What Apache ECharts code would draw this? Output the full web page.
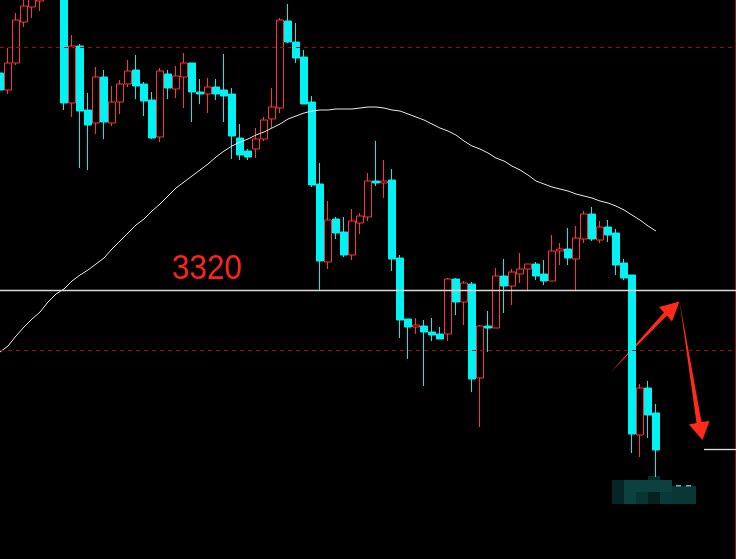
<!DOCTYPE html>
<html>
<head>
<meta charset="utf-8">
<style>
html,body{margin:0;padding:0;background:#000;}
#chart{width:736px;height:559px;}
</style>
<script src="https://cdn.jsdelivr.net/npm/echarts@6/dist/echarts.min.js"></script>
</head>
<body>
<div id="chart"></div>
<script>
// ---- data (index points) ----
// candle: [open, close, low, high]
const candles = [
  [3537,3520,3518,3540],[3520,3547,3516,3562],[3547,3590,3545,3597],[3588,3604,3583,3613],
  [3603,3611,3592,3618],[3609,3625,3599,3632],[3622,3640,3618,3648],[3645,3630,3625,3655],
  [3635,3507,3500,3640],[3507,3564,3493,3575],[3564,3499,3442,3566],[3500,3485,3440,3517],
  [3487,3533,3476,3543],[3533,3488,3471,3540],[3487,3508,3484,3524],[3508,3526,3496,3530],
  [3526,3539,3523,3550],[3540,3524,3511,3555],[3526,3509,3494,3528],[3510,3472,3471,3518],
  [3473,3539,3468,3542],[3536,3522,3511,3540],[3521,3534,3512,3544],[3533,3547,3502,3557],
  [3547,3518,3488,3547],[3518,3516,3506,3531],[3516,3523,3497,3532],[3523,3516,3510,3531],
  [3520,3514,3488,3556],[3516,3474,3451,3522],[3472,3455,3450,3486],[3459,3453,3450,3461],
  [3461,3471,3452,3482],[3471,3490,3469,3493],[3491,3503,3482,3522],[3502,3590,3497,3592],
  [3589,3568,3567,3606],[3568,3552,3547,3587],[3553,3506,3506,3560],[3508,3425,3423,3514],
  [3426,3349,3320,3447],[3348,3390,3341,3409],[3391,3377,3371,3393],[3378,3355,3353,3393],
  [3355,3389,3350,3401],[3387,3394,3376,3397],[3393,3429,3389,3437],[3429,3427,3424,3469],
  [3427,3429,3412,3450],[3430,3351,3339,3441],[3352,3290,3272,3355],[3291,3283,3251,3291],
  [3283,3285,3276,3292],[3284,3278,3224,3290],[3278,3275,3269,3292],[3276,3271,3271,3283],
  [3276,3331,3269,3332],[3331,3308,3295,3332],[3308,3327,3285,3329],[3326,3231,3218,3328],
  [3232,3284,3183,3285],[3284,3282,3258,3299],[3282,3334,3282,3342],[3334,3324,3297,3351],
  [3324,3338,3305,3341],[3336,3341,3327,3357],[3341,3346,3320,3346],[3346,3334,3330,3348],
  [3336,3329,3325,3350],[3329,3359,3329,3375],[3359,3361,3345,3367],[3361,3352,3345,3382],
  [3351,3372,3320,3384],[3371,3396,3367,3399],[3396,3371,3369,3403],[3370,3383,3367,3389],
  [3383,3375,3368,3390],[3377,3345,3335,3381],[3347,3332,3330,3351],[3335,3176,3157,3335],
  [3175,3222,3153,3226],[3222,3195,3172,3229],[3197,3160,3133,3206]
];
// moving-average line
const maLine = [
  3258,3264,3274,3283,3291,3298,3308,3316,3321,3329,3335,3340,3346,3352,3361,3369,
  3377,3385,3391,3399,3406,3414,3422,3428,3434,3440,3446,3453,3459,3464,3468,3471,
  3475,3478,3482,3486,3491,3494,3497,3499,3500,3500,3501,3501,3501,3502,3503,3503,
  3502,3500,3499,3496,3493,3490,3486,3482,3479,3475,3469,3464,3461,3457,3452,3449,
  3444,3440,3435,3429,3426,3423,3421,3419,3416,3414,3412,3409,3407,3404,3400,3395,
  3390,3384,3379
];
const totalSlots = 93;
const categories = Array.from({length: totalSlots}, (_, i) => 'D' + (i + 1));
const supportLevel = 3320;
const dashLevels = [3563, 3260];
const lowMark = 3161;
const lowMarkRange = [88, 92];
const yMin = 3051, yMax = 3610;

const chart = echarts.init(document.getElementById('chart'));
const UP = '#ff3434', DOWN = '#00f2f2';

const option = {
  backgroundColor: '#000',
  animation: false,
  grid: {left: 0, top: 0, right: 0, bottom: 0, containLabel: false},
  xAxis: {type: 'category', data: categories, boundaryGap: false, show: false},
  yAxis: {type: 'value', min: yMin, max: yMax, show: false, splitLine: {show: false}},
  series: [
    {
      type: 'candlestick',
      data: candles,
      barWidth: 7,
      clip: true,
      itemStyle: {color: '#000', color0: DOWN, borderColor: UP, borderColor0: DOWN, borderWidth: 1},
      markLine: {
        silent: true,
        symbol: ['none', 'none'],
        label: {show: false},
        data: [
          {yAxis: supportLevel, lineStyle: {color: '#dcdcdc', width: 1.3, type: 'solid'}},
          {yAxis: dashLevels[0], lineStyle: {color: '#9a0c0c', width: 1, type: [4, 4]}},
          {yAxis: dashLevels[1], lineStyle: {color: '#9a0c0c', width: 1, type: [4, 4]}},
          [
            {coord: [lowMarkRange[0], lowMark], lineStyle: {color: '#e0e0e0', width: 1.3, type: 'solid'}},
            {coord: [lowMarkRange[1], lowMark]}
          ]
        ]
      }
    },
    {
      type: 'line',
      data: maLine,
      symbol: 'none',
      smooth: false,
      lineStyle: {color: '#e8e8e8', width: 1},
      z: 3
    }
  ],
  graphic: [
    {type: 'text', left: 172, top: 252, scaleX: 0.9,
      style: {text: '3320', fill: '#ff221a', font: '35px "Liberation Sans", Arial, sans-serif'}},
    // annotation arrows
    {type: 'polygon', shape: {points: [[610,373],[664,312.5],[659,307],[679.5,301.5],[672,321.5],[667,315.5]]},
      style: {fill: '#ff2a1a'}},
    {type: 'polygon', shape: {points: [[679.5,301],[696.5,423],[689,424.5],[702.5,440],[709.5,421],[701.5,422]]},
      style: {fill: '#ff2a1a'}},
    // right border
    {type: 'line', shape: {x1: 735.5, y1: 0, x2: 735.5, y2: 559}, style: {stroke: '#8a1414', lineWidth: 1}},
    // pixelated (mosaic) price tag
    {type: 'group', children: [
      {type: 'rect', shape: {x: 612, y: 480, width: 12, height: 24}, style: {fill: '#052624'}},
      {type: 'rect', shape: {x: 624, y: 480, width: 48, height: 12}, style: {fill: '#0b4240'}},
      {type: 'rect', shape: {x: 624, y: 492, width: 12, height: 12}, style: {fill: '#094240'}},
      {type: 'rect', shape: {x: 636, y: 492, width: 12, height: 12}, style: {fill: '#063532'}},
      {type: 'rect', shape: {x: 648, y: 492, width: 12, height: 12}, style: {fill: '#04201f'}},
      {type: 'rect', shape: {x: 648, y: 476, width: 12, height: 4}, style: {fill: '#062a28'}},
      {type: 'rect', shape: {x: 660, y: 492, width: 12, height: 12}, style: {fill: '#083a38'}},
      {type: 'rect', shape: {x: 672, y: 486, width: 24, height: 18}, style: {fill: '#0a3634'}},
      {type: 'rect', shape: {x: 676, y: 485, width: 5, height: 1.5}, style: {fill: '#3cc8c8'}},
      {type: 'rect', shape: {x: 686, y: 485, width: 5, height: 1.5}, style: {fill: '#3cc8c8'}}
    ]}
  ]
};
chart.setOption(option);
</script>
</body>
</html>
